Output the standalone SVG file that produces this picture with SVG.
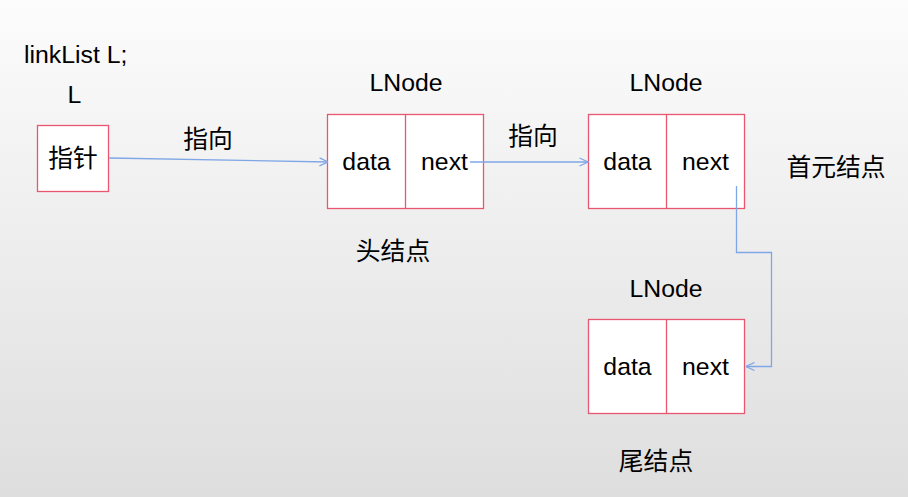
<svg xmlns="http://www.w3.org/2000/svg" width="908" height="497" viewBox="0 0 908 497">
<defs>
<linearGradient id="bg" x1="0" y1="0" x2="0" y2="1">
<stop offset="0" stop-color="#fcfcfc"/>
<stop offset="1" stop-color="#dedede"/>
</linearGradient>
<marker id="arr" viewBox="0 0 10 10" refX="9.5" refY="5" markerWidth="10" markerHeight="10" markerUnits="userSpaceOnUse" orient="auto">
<path d="M1,1 L9.5,5 L1,9" fill="none" stroke="#7fa7e6" stroke-width="1.3"/>
</marker>
</defs>
<style>
text{font-family:"Liberation Sans","Noto Sans CJK SC",sans-serif;font-size:24.8px;fill:#000;}
.m{text-anchor:middle;}
.box{fill:#fff;stroke:#e8576f;stroke-width:1.3;}
.ln{fill:none;stroke:#7fa7e6;stroke-width:1.3;}
</style>
<rect width="908" height="497" fill="url(#bg)"/>
<g id="decl">
<text x="24" y="63">linkList L;</text>
<text class="m" x="74.5" y="103">L</text>
</g>
<g id="pointer">
<rect class="box" x="37.5" y="125.5" width="71" height="66"/>
<text class="m" x="73" y="167">指针</text>
</g>
<g id="head">
<text class="m" x="406" y="91">LNode</text>
<rect class="box" x="327.5" y="114.5" width="156" height="94"/>
<line class="box" x1="405.5" y1="114.5" x2="405.5" y2="208.5"/>
<text class="m" x="366.5" y="170">data</text>
<text class="m" x="444.5" y="170">next</text>
<text class="m" x="393" y="260">头结点</text>
</g>
<g id="first">
<text class="m" x="666" y="91">LNode</text>
<rect class="box" x="588.5" y="114.5" width="156" height="94"/>
<line class="box" x1="666.5" y1="114.5" x2="666.5" y2="208.5"/>
<text class="m" x="627.5" y="170">data</text>
<text class="m" x="705.5" y="170">next</text>
<text class="m" x="836" y="176">首元结点</text>
</g>
<g id="tail">
<text class="m" x="666" y="297">LNode</text>
<rect class="box" x="588.5" y="319.5" width="156" height="94"/>
<line class="box" x1="666.5" y1="319.5" x2="666.5" y2="413.5"/>
<text class="m" x="627.5" y="375">data</text>
<text class="m" x="705.5" y="375">next</text>
<text class="m" x="656" y="470">尾结点</text>
</g>
<g id="connectors">
<line class="ln" x1="109" y1="158" x2="328" y2="162" marker-end="url(#arr)"/>
<text class="m" x="208" y="148">指向</text>
<line class="ln" x1="470" y1="162" x2="588" y2="162" marker-end="url(#arr)"/>
<text class="m" x="533" y="145">指向</text>
<polyline class="ln" points="736.5,186 736.5,252.5 771.5,252.5 771.5,366.5 746,366.5" marker-end="url(#arr)"/>
</g>
</svg>
